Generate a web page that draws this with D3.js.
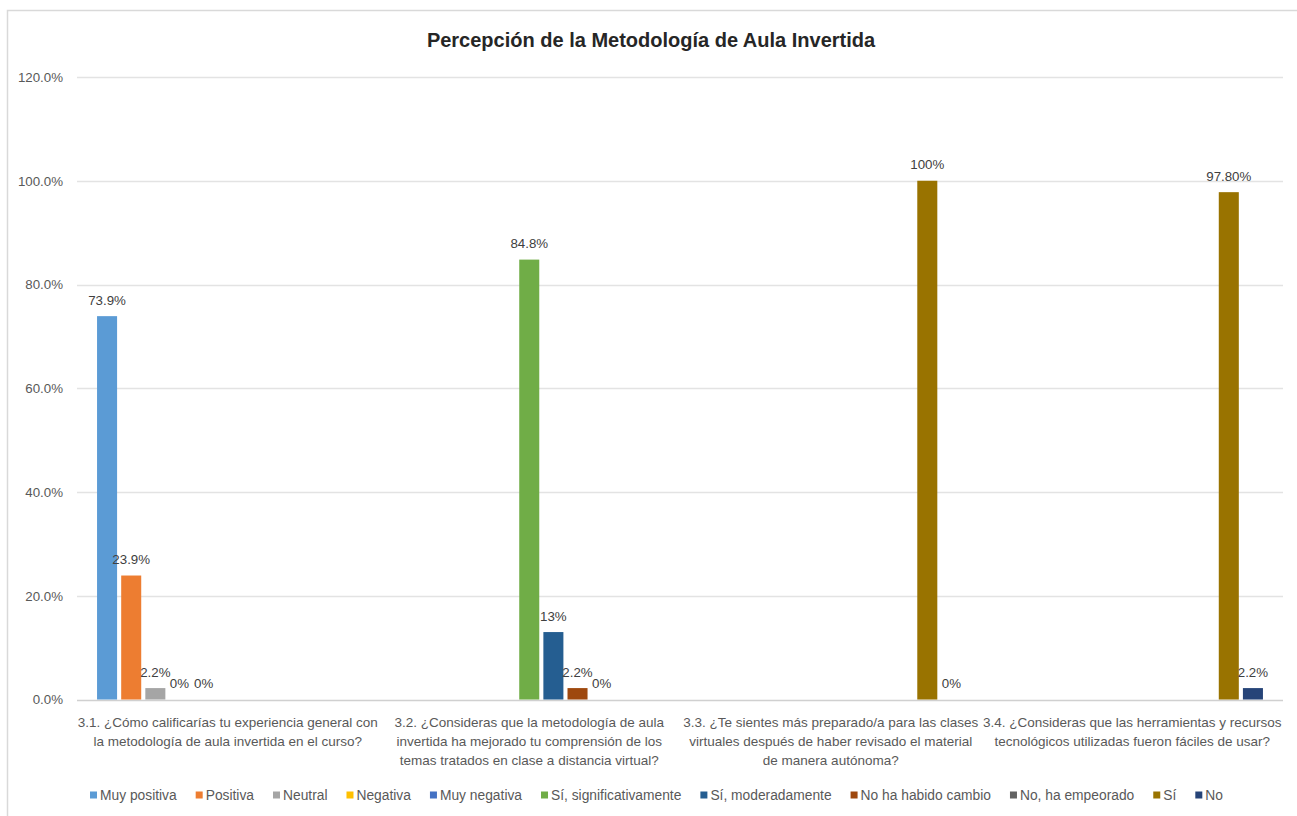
<!DOCTYPE html>
<html>
<head>
<meta charset="utf-8">
<script src="https://cdn.jsdelivr.net/npm/d3@7"></script>
<style>
  html, body { margin: 0; padding: 0; background: #ffffff; }
  svg { display: block; }
  text { font-family: "Liberation Sans", Arial, sans-serif; }
</style>
</head>
<body>
<svg id="chart" width="1297" height="816"></svg>
<script>
const chartTitle = "Percepción de la Metodología de Aula Invertida";

const categoryLines = [
  ["3.1. ¿Cómo calificarías tu experiencia general con", "la metodología de aula invertida en el curso?"],
  ["3.2. ¿Consideras que la metodología de aula", "invertida ha mejorado tu comprensión de los", "temas tratados en clase a distancia virtual?"],
  ["3.3. ¿Te sientes más preparado/a para las clases", "virtuales después de haber revisado el material", "de manera autónoma?"],
  ["3.4. ¿Consideras que las herramientas y recursos", "tecnológicos utilizadas fueron fáciles de usar?"]
];
const categories = ["3.1", "3.2", "3.3", "3.4"];

const seriesNames = ["Muy positiva", "Positiva", "Neutral", "Negativa", "Muy negativa",
  "Sí, significativamente", "Sí, moderadamente", "No ha habido cambio", "No, ha empeorado", "Sí", "No"];

const seriesColors = ["#5B9BD5", "#ED7D31", "#A5A5A5", "#FFC000", "#4472C4",
  "#70AD47", "#255E91", "#9E480E", "#636363", "#997300", "#264478"];

// values per series, one per category (null = no bar)
const seriesValues = [
  [73.9, null, null, null],
  [23.9, null, null, null],
  [2.2, null, null, null],
  [0, null, null, null],
  [0, null, null, null],
  [null, 84.8, null, null],
  [null, 13, null, null],
  [null, 2.2, null, null],
  [null, 0, null, null],
  [null, null, 100, 97.8],
  [null, null, 0, 2.2]
];
const valueLabels = [
  ["73.9%", null, null, null],
  ["23.9%", null, null, null],
  ["2.2%", null, null, null],
  ["0%", null, null, null],
  ["0%", null, null, null],
  [null, "84.8%", null, null],
  [null, "13%", null, null],
  [null, "2.2%", null, null],
  [null, "0%", null, null],
  [null, null, "100%", "97.80%"],
  [null, null, "0%", "2.2%"]
];
const yTicks = [0, 20, 40, 60, 80, 100, 120];

const svg = d3.select("#chart");

// chart border
svg.append("rect").attr("x", 7.5).attr("y", 10.5).attr("width", 1300).attr("height", 820)
  .attr("fill", "none").attr("stroke", "#d9d9d9").attr("stroke-width", 1.5);

const plot = { left: 77, right: 1283, top: 77, bottom: 699.5 };

const x0 = d3.scaleBand().domain(categories).range([plot.left, plot.right]).padding(0);
const x1 = d3.scaleBand().domain(seriesNames).range([18, x0.bandwidth() - 18])
  .paddingInner(0.17).paddingOuter(0.085);
const y = d3.scaleLinear().domain([0, 120]).range([plot.bottom, plot.top]);

// title
svg.append("text").attr("x", 651).attr("y", 47).attr("text-anchor", "middle")
  .attr("font-size", 20).attr("font-weight", "bold").attr("fill", "#262626")
  .text(chartTitle);

// gridlines
svg.append("g").selectAll("line").data(yTicks).join("line")
  .attr("x1", plot.left).attr("x2", plot.right)
  .attr("y1", d => Math.round(y(d)) + 0.5).attr("y2", d => Math.round(y(d)) + 0.5)
  .attr("stroke", d => d === 0 ? "#d0d0d0" : "#e3e3e3").attr("stroke-width", 1.3);

// y axis labels
const yAxis = d3.axisLeft(y).tickValues(yTicks).tickFormat(d => d.toFixed(1) + "%").tickSize(0).tickPadding(0);
const yg = svg.append("g").attr("transform", `translate(63,0)`).call(yAxis);
yg.select(".domain").remove();
yg.selectAll("text").attr("font-size", 13.3).attr("fill", "#595959")
  .attr("font-family", "Liberation Sans, Arial, sans-serif");

// bars
const flat = [];
seriesNames.forEach((s, si) => {
  categories.forEach((c, ci) => {
    const v = seriesValues[si][ci];
    if (v !== null) flat.push({ s, si, c, v, label: valueLabels[si][ci] });
  });
});

const bars = svg.append("g");
bars.selectAll("rect").data(flat).join("rect")
  .attr("x", d => x0(d.c) + x1(d.s))
  .attr("y", d => y(d.v))
  .attr("width", x1.bandwidth())
  .attr("height", d => y(0) - y(d.v))
  .attr("fill", d => seriesColors[d.si]);

// data labels
svg.append("g").selectAll("text").data(flat).join("text")
  .attr("x", d => x0(d.c) + x1(d.s) + x1.bandwidth() / 2)
  .attr("y", d => y(d.v) - 16)
  .attr("dy", "0.35em")
  .attr("text-anchor", "middle")
  .attr("font-size", 13.3).attr("fill", "#404040")
  .text(d => d.label);

// category labels
const catG = svg.append("g");
categories.forEach((c, ci) => {
  const cx = x0(c) + x0.bandwidth() / 2;
  const t = catG.append("text").attr("text-anchor", "middle").attr("font-size", 13.5).attr("fill", "#595959");
  categoryLines[ci].forEach((line, li) => {
    t.append("tspan").attr("x", cx).attr("y", 722 + li * 19).attr("dy", "0.35em").text(line);
  });
});

// legend
const legend = svg.append("g");
let lx = 90;
seriesNames.forEach((s, si) => {
  legend.append("rect").attr("x", lx).attr("y", 791.5).attr("width", 7).attr("height", 7)
    .attr("fill", seriesColors[si]);
  const t = legend.append("text").attr("x", lx + 10).attr("y", 795).attr("dy", "0.35em")
    .attr("font-size", 13.8).attr("fill", "#595959").text(s);
  lx += 10 + t.node().getComputedTextLength() + 19;
});
</script>
</body>
</html>
